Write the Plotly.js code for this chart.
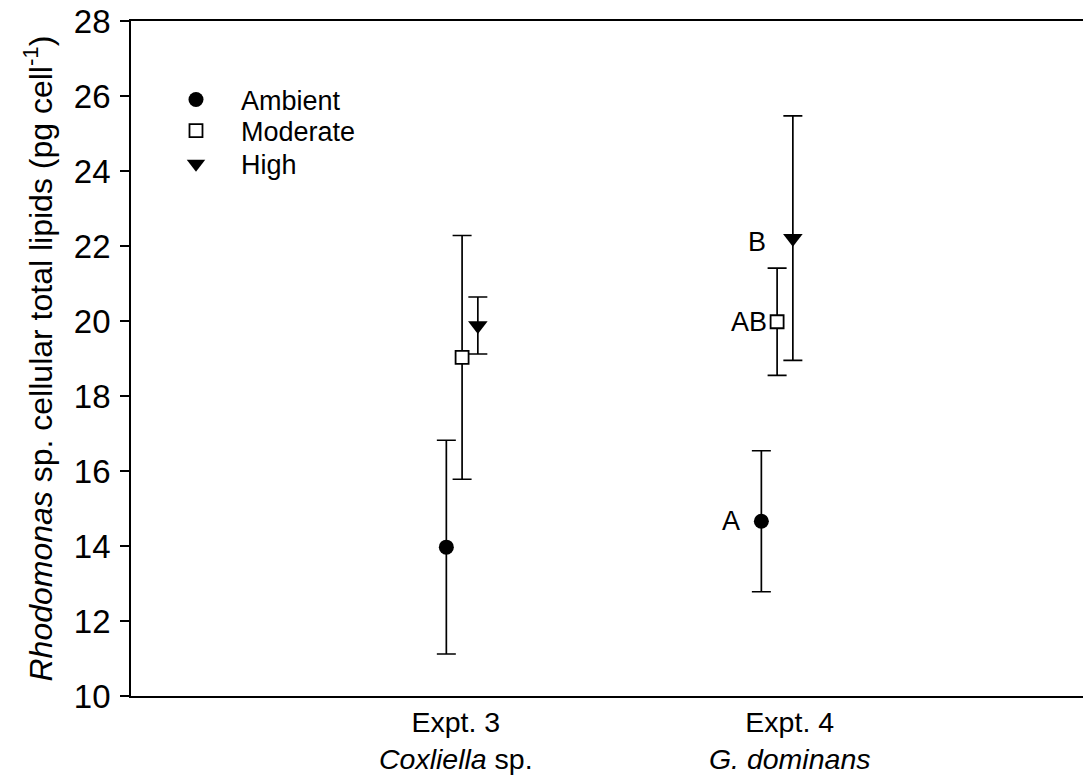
<!DOCTYPE html>
<html>
<head>
<meta charset="utf-8">
<script src="https://cdn.plot.ly/plotly-3.0.1.min.js"></script>
<style>
  html, body { margin: 0; padding: 0; background: #fff; }
  #chart { width: 1083px; height: 778px; }
</style>
</head>
<body>
<div id="chart"></div>
<script>
// Total lipid content of Rhodomonas sp. under three treatments, two experiments
const experiments = ['Expt. 3<br><i>Coxliella</i> sp.', 'Expt. 4<br><i>G. dominans</i>'];
const groupX = [1, 2];
const treatments = ['Ambient', 'Moderate', 'High'];
const treatmentOffset = [-0.05, 0, 0.05];

const ambientMean = [13.97, 14.66];
const ambientErr = [2.85, 1.88];
const moderateMean = [19.03, 19.98];
const moderateErr = [3.25, 1.43];
const highMean = [19.88, 22.21];
const highErr = [0.76, 3.26];

// significance letters for Expt. 4 (Ambient, Moderate, High)
const sigLetters = ['A', 'AB', 'B'];

const yTicks = [10, 12, 14, 16, 18, 20, 22, 24, 26, 28];

const means = [ambientMean, moderateMean, highMean];
const errs = [ambientErr, moderateErr, highErr];

const markerStyles = [
  { symbol: 'circle', size: 15, color: '#000', line: { color: '#000', width: 0 } },
  { symbol: 'square', size: 13, color: '#fff', line: { color: '#000', width: 1.8 } },
  { symbol: 'triangle-down', size: 17, color: '#000', line: { color: '#000', width: 0 } }
];
const legendIds = ['legend', 'legend2', 'legend3'];

const traces = treatments.map((name, i) => ({
  type: 'scatter',
  mode: 'markers',
  name: name,
  legend: legendIds[i],
  x: groupX.map(g => g + treatmentOffset[i]),
  y: means[i],
  marker: markerStyles[i],
  error_y: { type: 'data', array: errs[i], visible: true, color: '#000', thickness: 1.7, width: 9.5 },
  cliponaxis: false,
  hoverinfo: 'x+y'
}));

const letterShift = [[-19, 0], [-8, 0], [-25, -4]];
const annotations = sigLetters.map((t, i) => ({
  x: groupX[1] + treatmentOffset[i],
  y: means[i][1],
  xref: 'x', yref: 'y',
  text: t,
  showarrow: false,
  xanchor: 'right',
  yanchor: 'middle',
  xshift: letterShift[i][0],
  yshift: letterShift[i][1],
  font: { family: 'Liberation Sans, Arial, sans-serif', size: 27, color: '#000' }
}));

const legendFont = { family: 'Liberation Sans, Arial, sans-serif', size: 27, color: '#000' };
function legendAt(yPaper) {
  return {
    x: 0.021, y: yPaper, xanchor: 'left', yanchor: 'middle',
    bgcolor: 'rgba(0,0,0,0)', borderwidth: 0,
    font: legendFont, itemwidth: 80
  };
}

const layout = {
  width: 1083,
  height: 778,
  margin: { l: 131, r: 0, t: 21, b: 82 },
  paper_bgcolor: '#fff',
  plot_bgcolor: '#fff',
  font: { family: 'Liberation Sans, Arial, sans-serif', color: '#000' },
  showlegend: true,
  legend: legendAt(0.883),
  legend2: legendAt(0.837),
  legend3: legendAt(0.788),
  xaxis: {
    range: [-0.051, 2.971],
    showgrid: false,
    zeroline: false,
    showline: true,
    linecolor: '#000',
    linewidth: 1.7,
    mirror: true,
    ticks: '',
    tickmode: 'array',
    tickvals: [0.98, 2.04],
    ticktext: experiments,
    tickfont: { size: 28.5, color: '#000' }
  },
  yaxis: {
    range: [10, 28],
    showgrid: false,
    zeroline: false,
    showline: true,
    linecolor: '#000',
    linewidth: 1.7,
    mirror: false,
    ticks: 'outside',
    ticklen: 9,
    tickwidth: 1.7,
    tickcolor: '#000',
    tickmode: 'array',
    tickvals: yTicks,
    ticklabelstandoff: 3,
    tickfont: { size: 33, color: '#000' },
    title: {
      text: '<i>Rhodomonas</i> sp. cellular total lipids (pg cell<sup>-1</sup>)',
      font: { size: 32, color: '#000' },
      standoff: 12
    }
  },
  annotations: annotations
};

Plotly.newPlot('chart', traces, layout, { displayModeBar: false, responsive: false });
</script>
</body>
</html>
